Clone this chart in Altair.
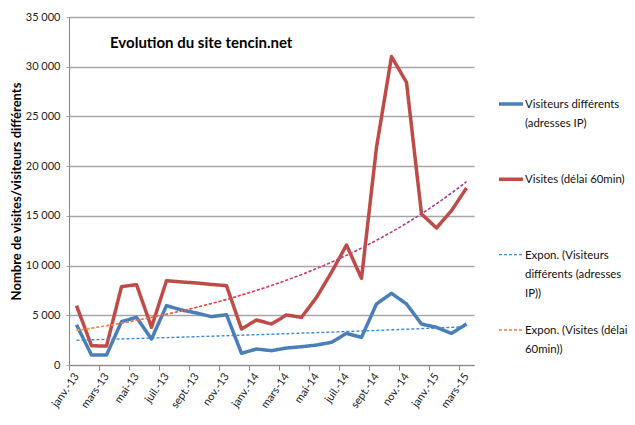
import json
import altair as alt
import pandas as pd

FONT = "Lato"

months = ["janv.-13", "févr.-13", "mars-13", "avr.-13", "mai-13", "juin-13",
          "juil.-13", "août-13", "sept.-13", "oct.-13", "nov.-13", "déc.-13",
          "janv.-14", "févr.-14", "mars-14", "avr.-14", "mai-14", "juin-14",
          "juil.-14", "août-14", "sept.-14", "oct.-14", "nov.-14", "déc.-14",
          "janv.-15", "févr.-15", "mars-15"]
visiteurs = [4050, 1000, 1000, 4360, 4790, 2610, 5970, 5530, 5230, 4860, 5060, 1170,
             1610, 1440, 1710, 1840, 2010, 2280, 3180, 2780, 6140, 7210, 6140, 4120,
             3790, 3180, 4120]
visites = [5970, 1940, 1900, 7880, 8080, 3790, 8480, 8350, 8250, 8100, 7980, 3620,
           4530, 4120, 5030, 4790, 6800, 9320, 12070, 8710, 21890, 31020, 28430, 15190,
           13780, 15520, 17800]

series = ["Visiteurs différents (adresses IP)", "Visites (délai 60min)"]
trend_series = ["Expon. (Visiteurs différents (adresses IP))", "Expon. (Visites (délai 60min))"]
legend_lines = [
    ["Visiteurs différents", "(adresses IP)"],
    ["Visites (délai 60min)"],
    ["Expon. (Visiteurs", "différents (adresses", "IP))"],
    ["Expon. (Visites (délai", "60min))"],
]
chart_title = "Evolution du site tencin.net"
y_title = "Nombre de visites/visiteurs  différents"
y_ticks = list(range(0, 35001, 5000))
x_ticks = list(range(0, len(months), 2))

rows = []
for i, m in enumerate(months):
    rows.append({"i": i, "mois": m, "serie": series[0], "v": visiteurs[i]})
    rows.append({"i": i, "mois": m, "serie": series[1], "v": visites[i]})
df = pd.DataFrame(rows)

domain = series + trend_series
colors = ["#4a7ebb", "#be4b48", "#3a8ad8", "#f07a48"]
dashes = [[1, 0], [1, 0], [3, 2], [3, 2]]
widths = [3.5, 3.5, 1.4, 1.4]

legend_df = pd.DataFrame({
    "k": list(range(len(domain))),
    "serie": domain,
    "lbl": ["\n".join(l) for l in legend_lines],
})

months_js = json.dumps(months, ensure_ascii=False).replace('"', "'")
x_label_expr = f"{months_js}[datum.value]"

x_enc = alt.X("i:Q", scale=alt.Scale(domain=[-0.5, len(months) - 0.5], nice=False, zero=False),
              axis=alt.Axis(values=x_ticks, labelExpr=x_label_expr, title=None, grid=False,
                            tickOffset=-7.5, labelOffset=7.5, labelAngle=-55, labelOverlap=False,
                            labelFont=FONT, labelFontSize=11, labelColor="#222",
                            tickSize=5, tickColor="#888", domainColor="#888", labelPadding=4))


def y_enc(field):
    return alt.Y(f"{field}:Q", scale=alt.Scale(domain=[0, 35000]),
                 axis=alt.Axis(values=y_ticks, labelExpr="replace(format(datum.value, ','), ',', ' ')",
                               title=y_title, titleFont=FONT, titleFontSize=13, titleFontWeight="bold",
                               titleColor="#000", titlePadding=2,
                               labelFont=FONT, labelFontSize=11, labelColor="#222", labelPadding=6,
                               grid=True, gridColor="#a6a6a6", gridWidth=1.3,
                               tickSize=3, tickColor="#a6a6a6", domainColor="#888"))


color = alt.Color("serie:N", scale=alt.Scale(domain=domain, range=colors), legend=None)
dash = alt.StrokeDash("serie:N", scale=alt.Scale(domain=domain, range=dashes), legend=None)
width = alt.StrokeWidth("serie:N", scale=alt.Scale(type="ordinal", domain=domain, range=widths), legend=None)

lines = alt.Chart(df).mark_line(strokeJoin="round").encode(
    x=x_enc, y=y_enc("v"), color=color, strokeDash=dash, strokeWidth=width)

trend_base = alt.Chart(df).transform_calculate(
    lv="log(datum.v)", ilv="datum.i * log(datum.v)", ii="datum.i * datum.i"
).transform_joinaggregate(
    mi="mean(i)", ml="mean(lv)", mil="mean(ilv)", mii="mean(ii)", groupby=["serie"]
).transform_calculate(
    b="(datum.mil - datum.mi * datum.ml) / (datum.mii - datum.mi * datum.mi)"
).transform_calculate(
    v="exp(datum.ml - datum.b * datum.mi + datum.b * datum.i)",
    serie="'Expon. (' + datum.serie + ')'"
)

trend = trend_base.mark_line(interpolate="monotone").encode(
    x=x_enc, y=y_enc("v"), color=color, strokeDash=dash, strokeWidth=width)

grad = alt.LinearGradient(
    gradient="linear", x1=0, x2=1, y1=0, y2=0,
    stops=[alt.GradientStop(offset=0, color="#f5a04a"),
           alt.GradientStop(offset=0.35, color="#ea3a48"),
           alt.GradientStop(offset=0.7, color="#c23a8a"),
           alt.GradientStop(offset=1, color="#8a3ec0")])
trend_grad = trend_base.transform_filter(
    alt.datum.serie == trend_series[1]
).mark_line(interpolate="monotone", stroke=grad, strokeDash=[3, 2], strokeWidth=1.4).encode(
    x=x_enc, y=y_enc("v"))

title_layer = alt.Chart(pd.DataFrame({"t": [chart_title]})).mark_text(
    align="left", baseline="middle", font=FONT, fontSize=15, fontWeight="bold", color="#000"
).encode(text="t:N", x=alt.value(41), y=alt.value(26))

legend_y = alt.Y("k:Q", scale=alt.Scale(domain=[0, 3], range=[87, 313]), axis=None)
legend_sym = alt.Chart(legend_df).mark_rule().encode(
    x=alt.value(430), x2=alt.value(454), y=legend_y,
    color=color, strokeDash=dash, strokeWidth=width)
legend_txt = alt.Chart(legend_df).mark_text(
    align="left", baseline="alphabetic", dy=4, lineBreak="\n", lineHeight=19,
    font=FONT, fontSize=11.4, color="#111"
).encode(x=alt.value(456), y=legend_y, text="lbl:N")

main = alt.layer(lines, trend, trend_grad, title_layer)
legend_layer = alt.layer(legend_sym, legend_txt)

chart = alt.layer(main, legend_layer).resolve_scale(y="independent").properties(
    width=405, height=348,
    autosize=alt.AutoSizeParams(type="none"),
    padding={"left": 61, "top": 9, "right": 153, "bottom": 46},
    background="white"
).configure_view(stroke=None)

chart.save("out.html", embed_options={"renderer": "svg", "actions": False})
